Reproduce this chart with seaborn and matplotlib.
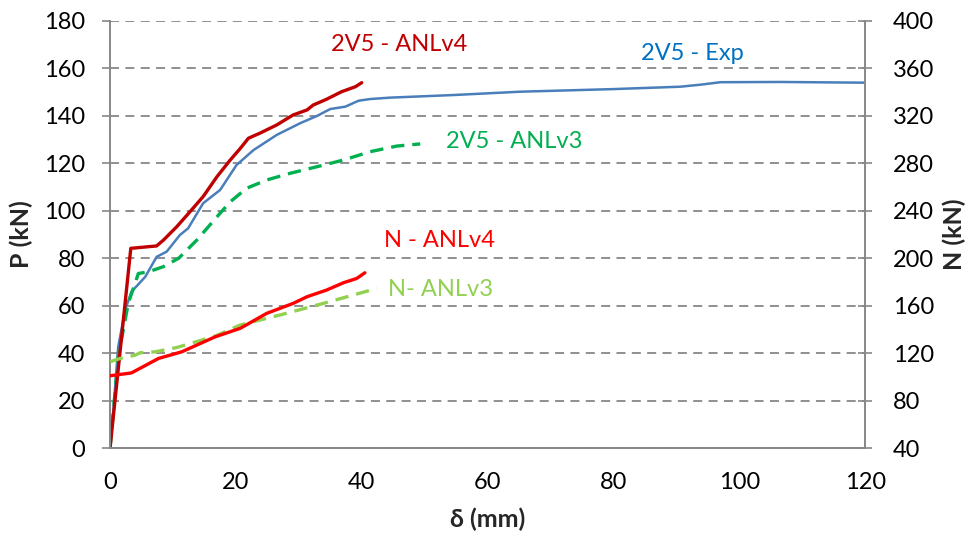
import matplotlib
matplotlib.use("Agg")
import matplotlib.pyplot as plt
import seaborn as sns
import pandas as pd

# ---- data ----
exp_x = [0, 0.5, 1.3, 2.4, 3.4, 5.6, 7.4, 9.0, 11.1, 12.4, 14.8, 17.5, 20.1, 22.8, 26.5, 30.2,
         32.9, 35.0, 37.4, 39.5, 41.3, 44.5, 54.6, 65.2, 80.0, 90.6, 94.0, 97.0, 106.5, 120.0]
exp_p = [0, 15, 42.7, 58.2, 65.9, 72.2, 80.6, 82.8, 89.8, 92.6, 103.2, 108.8, 119.3, 125.6, 132.0, 136.9,
         140.0, 142.9, 143.9, 146.4, 147.1, 147.7, 148.8, 150.2, 151.3, 152.3, 153.2, 154.2, 154.3, 154.0]

v4_x = [0, 3.3, 7.4, 8.5, 10.6, 12.7, 14.8, 17.0, 19.1, 20.7, 22.0, 23.8, 26.5, 29.1, 31.3, 32.3,
        34.4, 36.8, 39.0, 40.0]
v4_p = [0, 84.2, 85.2, 87.7, 93.3, 99.6, 106.0, 114.4, 121.4, 126.3, 130.6, 132.7, 136.2, 140.4, 142.5, 144.6,
        147.0, 150.2, 152.3, 154.0]

v3_x = [0, 1.3, 2.9, 4.5, 6.1, 8.5, 10.9, 13.8, 17.0, 19.1, 21.7, 24.9, 28.6, 32.9, 37.1, 41.3, 45.6, 49.3]
v3_p = [0, 38.5, 61.0, 73.6, 74.3, 76.5, 80.0, 87.7, 97.5, 103.8, 109.5, 113.0, 115.8, 118.6, 121.4, 124.9,
        127.3, 128.2]

nv4_x = [0, 3.4, 7.7, 11.4, 16.7, 20.7, 24.9, 29.1, 31.3, 34.4, 37.1, 39.2, 40.5]
nv4_n = [101, 103.4, 115.6, 121.2, 133.8, 141, 153.6, 162, 167.6, 173.2, 179.4, 183, 187.8]

nv3_x = [0, 1.6, 4.0, 4.8, 7.2, 10.6, 16.7, 20.7, 27.0, 33.9, 42.4]
nv3_n = [112.8, 115.6, 118.4, 120.4, 121.2, 124.8, 134.4, 143.8, 152.2, 162, 174.6]

labels = ["2V5 - ANLv4", "2V5 - Exp", "2V5 - ANLv3", "N - ANLv4", "N- ANLv3"]
x_ticks = [0, 20, 40, 60, 80, 100, 120]
p_ticks = list(range(0, 181, 20))
n_ticks = list(range(40, 401, 40))

# ---- style ----
sns.set_theme(style="white")
plt.rcParams['font.family'] = ['Lato', 'DejaVu Sans']

GRID = "#878787"
fig = plt.figure(figsize=(9.72, 5.38), dpi=100)
ax = fig.add_axes([0.1132, 0.167, 0.7768, 0.794])
ax2 = ax.twinx()

left_df = pd.concat([
    pd.DataFrame({"x": exp_x, "y": exp_p, "s": "exp"}),
    pd.DataFrame({"x": v4_x, "y": v4_p, "s": "v4"}),
    pd.DataFrame({"x": v3_x, "y": v3_p, "s": "v3"}),
])
right_df = pd.concat([
    pd.DataFrame({"x": nv4_x, "y": nv4_n, "s": "nv4"}),
    pd.DataFrame({"x": nv3_x, "y": nv3_n, "s": "nv3"}),
])

sns.lineplot(data=left_df[left_df.s == "exp"], x="x", y="y", sort=False, estimator=None,
             color="#4a7ebb", lw=1.8, ax=ax, legend=False)
sns.lineplot(data=left_df[left_df.s == "v3"], x="x", y="y", sort=False, estimator=None,
             color="#00b050", lw=2.4, ax=ax, legend=False)
ax.lines[-1].set_dashes([4.0, 2.4])
sns.lineplot(data=left_df[left_df.s == "v4"], x="x", y="y", sort=False, estimator=None,
             color="#c00000", lw=2.4, ax=ax, legend=False)

sns.lineplot(data=right_df[right_df.s == "nv3"], x="x", y="y", sort=False, estimator=None,
             color="#92d050", lw=2.4, ax=ax2, legend=False)
ax2.lines[-1].set_dashes([4.0, 2.4])
sns.lineplot(data=right_df[right_df.s == "nv4"], x="x", y="y", sort=False, estimator=None,
             color="#ff0000", lw=2.4, ax=ax2, legend=False)

ax.set_xlim(0, 120)
ax.set_ylim(0, 180)
ax2.set_ylim(40, 400)
ax.set_xticks(x_ticks)
ax.set_yticks(p_ticks)
ax2.set_yticks(n_ticks)

ax.yaxis.grid(True, color=GRID, linestyle=(0, (5, 3.5)), lw=1.3)
ax.xaxis.grid(False)
ax2.grid(False)
ax.set_axisbelow(True)

for a in (ax, ax2):
    for side in a.spines:
        a.spines[side].set_visible(False)
ax.spines["left"].set_visible(True)
ax.spines["bottom"].set_visible(True)
ax2.spines["right"].set_visible(True)
for sp in (ax.spines["left"], ax.spines["bottom"], ax2.spines["right"]):
    sp.set_color(GRID)
    sp.set_linewidth(1.4)

ax.tick_params(axis="both", which="major", direction="out", length=6, width=1.2, color=GRID,
               labelsize=17, labelcolor="black")
ax.tick_params(axis="y", pad=12)
ax.tick_params(axis="x", pad=11)
ax2.tick_params(axis="y", direction="inout", length=10, width=1.2, color=GRID,
                labelsize=17, labelcolor="black", pad=15)

ax.set_xlabel("δ (mm)", fontsize=18, fontweight="bold", labelpad=11)
ax.set_ylabel("P (kN)", fontsize=18, fontweight="bold", labelpad=8)
ax2.set_ylabel("N (kN)", fontsize=18, fontweight="bold", labelpad=6)

ax.text(45.9, 169.9, labels[0], color="#c00000", fontsize=17, ha="center", va="center")
ax.text(92.5, 166.5, labels[1], color="#0070c0", fontsize=17, ha="center", va="center")
ax.text(64.2, 129.4, labels[2], color="#00b050", fontsize=17, ha="center", va="center")
ax.text(52.3, 87.7, labels[3], color="#ff0000", fontsize=17, ha="center", va="center")
ax.text(52.5, 67.0, labels[4], color="#92d050", fontsize=17, ha="center", va="center")

fig.savefig("out.png", dpi=100)
